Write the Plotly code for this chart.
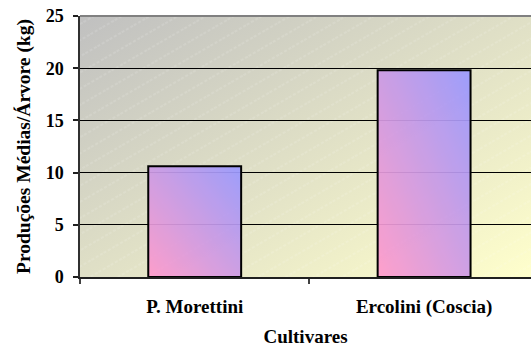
import base64
import numpy as np
import plotly.graph_objects as go

# ---- data ----
categories = ["P. Morettini", "Ercolini (Coscia)"]
values = [10.6, 19.8]
y_ticks = [0, 5, 10, 15, 20, 25]
x_title = "Cultivares"
y_title = "Produções Médias/Árvore (kg)"

# ---- layout constants ----
W, H = 531, 347
ML, MR, MT, MB = 80, 0, 16, 70
BAR_W = 0.405
FONT = "Liberation Serif, Times New Roman, serif"
x_pos = list(range(len(categories)))

PW, PH = W - ML - MR, H - MT - MB

# background gradient (grey top-left -> light yellow bottom-right) with faint hatching
svg = f'''<svg xmlns="http://www.w3.org/2000/svg" width="{PW}" height="{PH}" viewBox="0 0 {PW} {PH}" preserveAspectRatio="none">
<defs>
<linearGradient id="g" x1="0" y1="0" x2="1" y2="1">
<stop offset="0" stop-color="#c0c0c0"/>
<stop offset="1" stop-color="#ffffcc"/>
</linearGradient>
<pattern id="h" patternUnits="userSpaceOnUse" width="14" height="14" patternTransform="rotate(-30)">
<line x1="0" y1="7" x2="14" y2="7" stroke="white" stroke-opacity="0.3" stroke-width="0.8" stroke-dasharray="3,2"/>
</pattern>
</defs>
<rect x="0" y="0" width="{PW}" height="{PH}" fill="url(#g)"/>
<rect x="0" y="0" width="{PW}" height="{PH}" fill="url(#h)"/>
</svg>'''
bg_uri = "data:image/svg+xml;base64," + base64.b64encode(svg.encode()).decode()

fig = go.Figure()

# diagonal gradient fills of the bars
n = 60
u = np.linspace(0, 1, n)
zgrad = (u[None, :] + u[:, None]) / 2
for xi, v in zip(x_pos, values):
    xe = np.linspace(xi - BAR_W / 2, xi + BAR_W / 2, n + 1)
    ye = np.linspace(0, v, n + 1)
    fig.add_trace(go.Heatmap(
        x=xe, y=ye, z=zgrad, zmin=0, zmax=1,
        colorscale=[[0, "#ff99cc"], [1, "#9999ff"]],
        zsmooth="best", showscale=False, hoverinfo="skip", opacity=0.93,
    ))

# bar outlines
fig.add_trace(go.Bar(
    x=x_pos, y=values, width=BAR_W,
    marker=dict(color="rgba(0,0,0,0)", line=dict(color="black", width=2)),
    hoverinfo="skip", showlegend=False,
))

fig.update_layout(
    width=W, height=H,
    margin=dict(l=ML, r=MR, t=MT, b=MB, pad=0),
    paper_bgcolor="white",
    plot_bgcolor="#dfdfc6",
    showlegend=False,
    font=dict(family=FONT, color="black", size=18, weight="bold"),
    images=[dict(source=bg_uri, xref="paper", yref="paper", x=0, y=1,
                 sizex=1, sizey=1, xanchor="left", yanchor="top",
                 sizing="stretch", layer="below")],
    shapes=[dict(type="line", xref="paper", yref="paper", x0=0, x1=1, y0=1, y1=1,
                 line=dict(color="#808080", width=2), layer="above")],
)

fig.update_xaxes(
    range=[-0.5, 1.466],
    tickmode="array", tickvals=x_pos, ticktext=categories,
    ticks="", ticklabelstandoff=11,
    minor=dict(tickmode="array", tickvals=[-0.5, 0.5, 1.5], ticks="outside",
               ticklen=5, tickcolor="#404040", tickwidth=1.5),
    showline=True, linecolor="#202020", linewidth=1.5,
    showgrid=False, zeroline=False,
    tickfont=dict(family=FONT, size=19, weight="bold"),
    title=dict(text=x_title, standoff=27,
               font=dict(family=FONT, size=19, weight="bold")),
    automargin=False,
)

fig.update_yaxes(
    range=[0, 25],
    tickmode="array", tickvals=y_ticks,
    ticks="outside", ticklen=5, tickcolor="#202020", tickwidth=1.5,
    ticklabelstandoff=6,
    showline=True, linecolor="#303030", linewidth=1.5,
    showgrid=True, gridcolor="black", gridwidth=1,
    zeroline=False,
    tickfont=dict(family=FONT, size=18, weight="bold"),
    title=dict(text=y_title, standoff=10,
               font=dict(family=FONT, size=19.5, weight="bold")),
    automargin=False,
)

fig.write_html("out.html", config={"displayModeBar": False},
               post_script="document.body.style.margin='0';")
